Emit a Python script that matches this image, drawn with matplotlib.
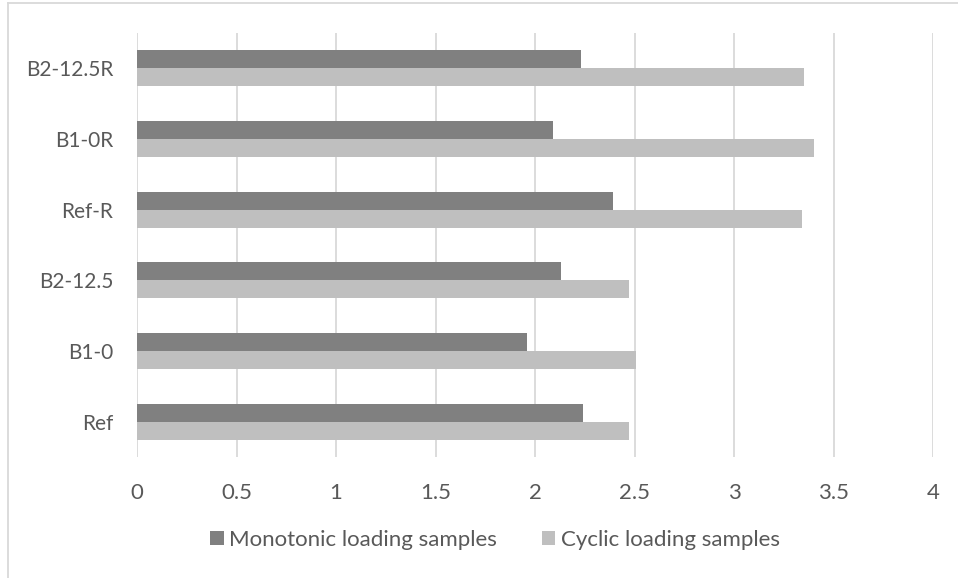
import matplotlib
matplotlib.use("Agg")
import matplotlib.pyplot as plt
import numpy as np
from matplotlib.patches import Patch
from matplotlib.lines import Line2D

categories = ["Ref", "B1-0", "B2-12.5", "Ref-R", "B1-0R", "B2-12.5R"]
monotonic = [2.24, 1.96, 2.13, 2.39, 2.09, 2.23]
cyclic = [2.47, 2.51, 2.47, 3.34, 3.40, 3.35]
series_names = ["Monotonic loading samples", "Cyclic loading samples"]
xticks = [0, 0.5, 1, 1.5, 2, 2.5, 3, 3.5, 4]
xtick_labels = ["0", "0.5", "1", "1.5", "2", "2.5", "3", "3.5", "4"]

plt.rcParams['font.family'] = ['Lato', 'DejaVu Sans']
W, H = 958, 578
fig = plt.figure(figsize=(W / 100, H / 100), dpi=100)
ax = fig.add_axes([137 / W, 1 - 457 / H, (933 - 137) / W, (457 - 33) / H])

dark = "#808080"
light = "#BFBFBF"
txt = "#595959"

y = np.arange(len(categories))
bh = 0.255
ax.barh(y + bh / 2, monotonic, height=bh, color=dark, zorder=3)
ax.barh(y - bh / 2, cyclic, height=bh, color=light, zorder=3)

ax.set_xlim(0, 4)
ax.set_ylim(-0.5, len(categories) - 0.5)
ax.set_xticks(xticks)
ax.set_xticklabels(xtick_labels)
ax.set_yticks(y)
ax.set_yticklabels(categories)
ax.tick_params(axis='both', length=0, colors=txt)
ax.tick_params(axis='x', pad=18.5, labelsize=16)
ax.tick_params(axis='y', pad=17, labelsize=15)
ax.grid(axis='x', color="#D9D9D9", linewidth=1.3, zorder=0)
for s in ax.spines.values():
    s.set_visible(False)

handles = [Patch(facecolor=dark, edgecolor='none'), Patch(facecolor=light, edgecolor='none')]
fig.legend(handles, series_names, loc='center', bbox_to_anchor=(0.5 + 16 / W, 1 - 540 / H),
           ncol=2, frameon=False, fontsize=16, labelcolor=txt,
           handlelength=0.62, handleheight=0.62, handletextpad=0.23, columnspacing=2.0)

# chart border (top and left visible)
fig.add_artist(Line2D([8 / W, 8 / W], [0, 1 - 3 / H], color="#D9D9D9", linewidth=1.3))
fig.add_artist(Line2D([8 / W, 1], [1 - 3 / H, 1 - 3 / H], color="#D9D9D9", linewidth=1.3))

fig.savefig("out.png", dpi=100, facecolor="white")
